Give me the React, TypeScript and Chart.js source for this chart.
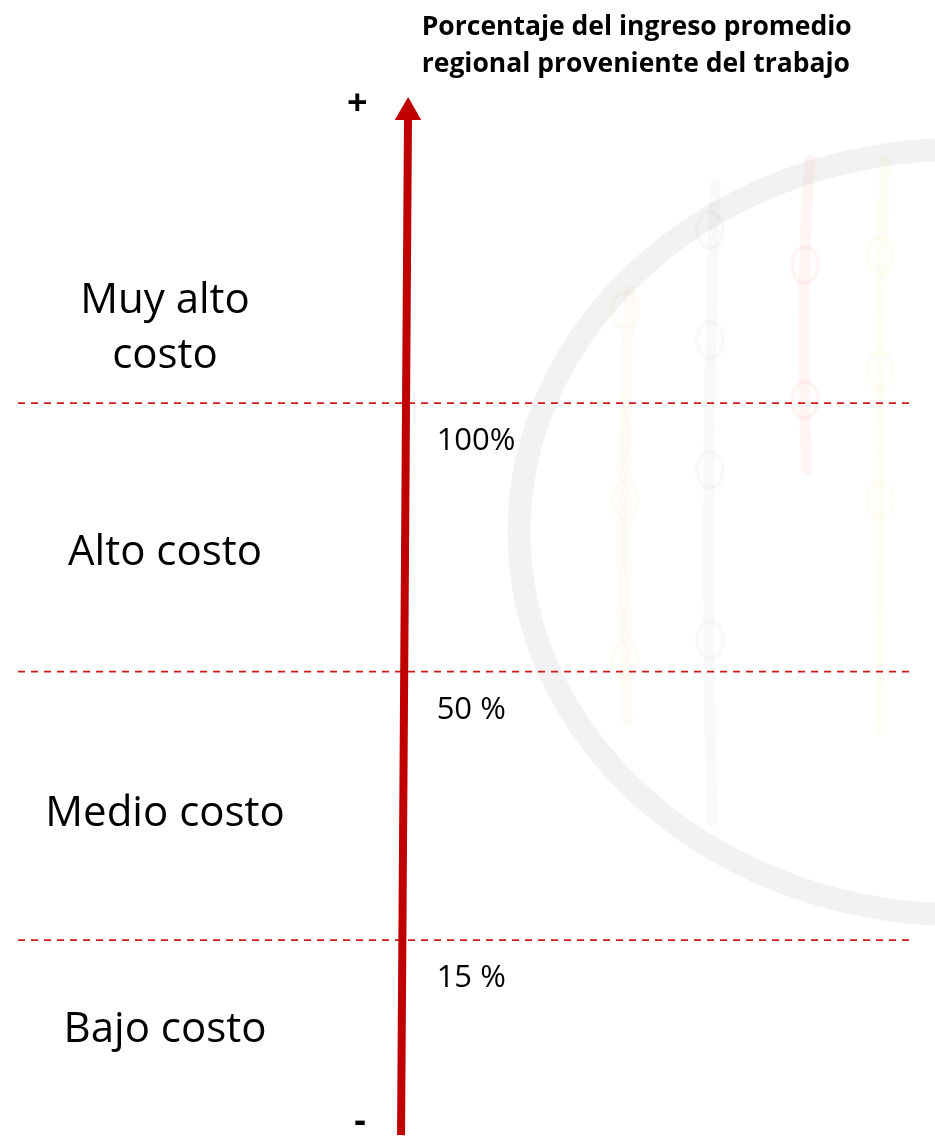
import { useEffect, useRef } from "react";
import { Chart, registerables } from "chart.js";

Chart.register(...registerables);

// ---- Data ----
const titleLines = ["Porcentaje del ingreso promedio", "regional proveniente del trabajo"];
const bandLabels = [["Bajo costo"], ["Medio costo"], ["Alto costo"], ["Muy alto", "costo"]];
const thresholdLabels = ["15 %", "50 %", "100%"];
const thresholdLevels = [1, 2, 3];
const axisEndLabels = ["-", "+"];
const axisLevels = [0.274, 4.083];

// ---- Layout constants (scale units: x = % of width, y = cost level) ----
const Y_MIN = 0.2632;
const Y_MAX = 4.5015;
const LINE_X = [1.93, 97.5];
const ARROW_X = [42.89, 43.64];
const BAND_LABEL_X = 17.65;
const BAND_LABEL_LEVEL = [0.677, 1.481, 2.453, 3.291];
const THRESH_LABEL_X = 46.7;
const END_LABEL_X = [38.5, 38.2];
const END_LABEL_LEVEL = [0.3228, 4.11];
const TITLE_X = 45.1;

const RED = "#c00000";

const backgroundPlugin = {
  id: "bg",
  beforeDraw(chart: any) {
    const { ctx, width, height } = chart;
    ctx.save();
    ctx.fillStyle = "#ffffff";
    ctx.fillRect(0, 0, width, height);
    // watermark ring
    ctx.beginPath();
    ctx.ellipse(962, 532, 443, 383, 0, 0, Math.PI * 2);
    ctx.lineWidth = 23;
    ctx.strokeStyle = "rgba(0,0,0,0.05)";
    ctx.stroke();
    // faint ropes with knots
    const ropes = [
      { x: 625, y0: 290, y1: 720, c: "rgba(240,170,60,0.045)", knots: [310, 500, 660] },
      { x: 710, y0: 185, y1: 820, c: "rgba(60,60,60,0.03)", knots: [230, 340, 470, 640] },
      { x: 805, y0: 160, y1: 470, c: "rgba(230,60,40,0.05)", knots: [265, 400] },
      { x: 880, y0: 160, y1: 730, c: "rgba(240,210,60,0.05)", knots: [255, 370, 500] },
    ];
    ropes.forEach((r) => {
      ctx.beginPath();
      ctx.moveTo(r.x + 5, r.y0);
      ctx.quadraticCurveTo(r.x - 6, (r.y0 + r.y1) / 2, r.x + 2, r.y1);
      ctx.lineWidth = 11;
      ctx.lineCap = "round";
      ctx.strokeStyle = r.c;
      ctx.stroke();
      r.knots.forEach((k) => {
        ctx.beginPath();
        ctx.ellipse(r.x, k, 13, 18, 0, 0, Math.PI * 2);
        ctx.lineWidth = 4;
        ctx.strokeStyle = r.c;
        ctx.stroke();
      });
    });
    ctx.restore();
  },
};

const textPlugin = {
  id: "texts",
  afterDraw(chart: any) {
    const { ctx } = chart;
    const xs = chart.scales.x;
    const ys = chart.scales.y;
    ctx.save();
    ctx.fillStyle = "#000000";
    ctx.textBaseline = "alphabetic";

    // title
    ctx.font = "bold 26.5px 'Open Sans'";
    ctx.textAlign = "left";
    titleLines.forEach((t, i) => {
      ctx.fillText(t, xs.getPixelForValue(TITLE_X), 35 + i * 37);
    });

    // band labels
    ctx.font = "42px 'Open Sans'";
    ctx.textAlign = "center";
    bandLabels.forEach((lines, i) => {
      const cy = ys.getPixelForValue(BAND_LABEL_LEVEL[i]);
      const n = lines.length;
      lines.forEach((t, j) => {
        ctx.fillText(t, xs.getPixelForValue(BAND_LABEL_X), cy + 15 + (j - (n - 1) / 2) * 55);
      });
    });

    // threshold labels
    ctx.font = "31px 'Open Sans'";
    ctx.textAlign = "left";
    thresholdLabels.forEach((t, i) => {
      ctx.fillText(t, xs.getPixelForValue(THRESH_LABEL_X), ys.getPixelForValue(thresholdLevels[i]) + 47);
    });

    // axis ends
    ctx.font = "bold 36px 'Open Sans'";
    ctx.textAlign = "center";
    ctx.textBaseline = "middle";
    axisEndLabels.forEach((t, i) => {
      ctx.fillText(t, xs.getPixelForValue(END_LABEL_X[i]), ys.getPixelForValue(END_LABEL_LEVEL[i]));
    });
    ctx.restore();
  },
};

export default function App() {
  const ref = useRef<HTMLCanvasElement | null>(null);
  useEffect(() => {
    if (!ref.current) return;
    const datasets: any[] = [
      {
        label: "eje",
        data: [
          { x: ARROW_X[0], y: axisLevels[0] },
          { x: ARROW_X[1], y: axisLevels[1] },
        ],
        borderColor: RED,
        backgroundColor: RED,
        borderWidth: 8,
        pointRadius: [0, 15.3],
        pointStyle: "triangle",
        pointRotation: 0.4,
        pointBorderWidth: 0,
        showLine: true,
        clip: false,
        borderCapStyle: "butt",
      },
      ...thresholdLevels.map((lv, i) => ({
        label: thresholdLabels[i],
        data: [
          { x: LINE_X[0], y: lv },
          { x: LINE_X[1], y: lv },
        ],
        borderColor: "#d01818",
        borderWidth: 1.8,
        borderDash: [7, 6],
        pointRadius: 0,
        showLine: true,
        clip: false,
      })),
    ];
    const chart = new Chart(ref.current, {
      type: "scatter",
      data: { datasets },
      options: {
        animation: false,
        responsive: false,
        devicePixelRatio: 1,
        events: [],
        layout: { padding: 0, autoPadding: false },
        plugins: { legend: { display: false }, tooltip: { enabled: false } },
        scales: {
          x: { type: "linear", min: 0, max: 100, display: false },
          y: { type: "linear", min: Y_MIN, max: Y_MAX, display: false },
        },
      },
      plugins: [backgroundPlugin, textPlugin],
    });
    return () => chart.destroy();
  }, []);
  return (
    <div style={{ position: "fixed", left: 0, top: 0, width: 935, height: 1138, background: "#fff" }}>
      <canvas ref={ref} width={935} height={1138} style={{ display: "block" }} />
    </div>
  );
}
